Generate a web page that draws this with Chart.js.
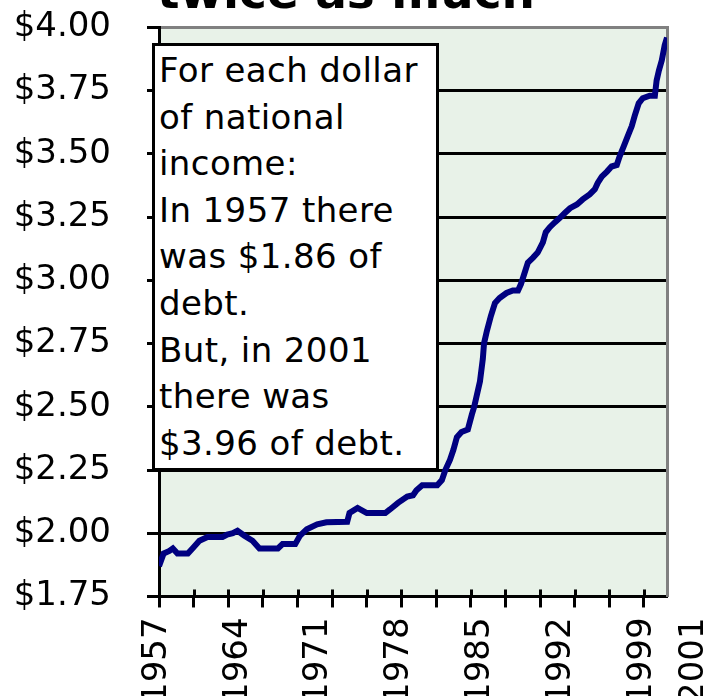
<!DOCTYPE html>
<html>
<head>
<meta charset="utf-8">
<script src="https://cdn.jsdelivr.net/npm/chart.js@4/dist/chart.umd.min.js"></script>
<style>
    html, body { margin: 0; padding: 0; background: #fff; overflow: hidden; }
    #wrap { position: relative; width: 712px; height: 696px; overflow: hidden; }
    #debtChart { position: absolute; left: 0; top: -32px; }
    #note {
        position: absolute; left: 152px; top: 43px; width: 277px; height: 421px;
        background: #fff; border: 3px solid #000; padding: 1px 0 0 4px; box-sizing: content-box;
        font-family: "DejaVu Sans", sans-serif; font-size: 34px; line-height: 46.6px; color: #000;
        letter-spacing: 0.4px; white-space: nowrap;
    }
</style>
</head>
<body>
<div id="wrap">
    <canvas id="debtChart" width="712" height="738"></canvas>
    <div id="note">For each dollar<br>of national<br>income:<br>In 1957 there<br>was $1.86 of<br>debt.<br>But, in 2001<br>there was<br>$3.96 of debt.</div>
</div>
<script>
// Debt per dollar of national income
const years = [1957.0, 1957.4, 1957.9, 1958.2, 1958.6, 1959.5, 1959.9, 1960.5, 1961.2, 1962.5,
    1962.9, 1963.4, 1963.8, 1964.4, 1965.1, 1965.7, 1967.3, 1967.7, 1968.8, 1969.2,
    1969.8, 1970.7, 1971.5, 1973.3, 1973.5, 1974.2, 1975.0, 1976.6, 1977.0, 1977.7,
    1978.5, 1979.0, 1979.3, 1979.8, 1981.1, 1981.5, 1981.8, 1982.2, 1982.5, 1982.8,
    1983.2, 1983.75, 1984.1, 1984.3, 1984.5, 1984.8, 1985.05, 1985.15, 1985.4, 1985.75,
    1986.1, 1986.5, 1987.1, 1987.65, 1988.1, 1988.35, 1988.6, 1988.95, 1989.4, 1989.8,
    1990.25, 1990.5, 1990.85, 1991.3, 1991.7, 1992.15, 1992.6, 1993.2, 1993.7, 1994.3,
    1994.75, 1995.0, 1995.35, 1995.8, 1996.2, 1996.65, 1996.9, 1997.25, 1997.6, 1997.95,
    1998.2, 1998.55, 1998.9, 1999.5, 1999.95, 2000.1, 2000.3, 2000.55, 2000.8, 2001.0];
const debt = [1.87, 1.92, 1.93, 1.94, 1.92, 1.92, 1.94, 1.97, 1.985, 1.985,
    1.995, 2.00, 2.01, 1.99, 1.97, 1.94, 1.94, 1.957, 1.957, 1.99,
    2.016, 2.035, 2.043, 2.045, 2.08, 2.10, 2.08, 2.08, 2.094, 2.12,
    2.145, 2.15, 2.17, 2.19, 2.19, 2.21, 2.25, 2.29, 2.33, 2.38,
    2.40, 2.41, 2.47, 2.50, 2.54, 2.60, 2.69, 2.75, 2.80, 2.86,
    2.91, 2.93, 2.95, 2.96, 2.96, 2.985, 3.02, 3.07, 3.09, 3.11,
    3.15, 3.19, 3.21, 3.23, 3.246, 3.266, 3.285, 3.30, 3.32, 3.34,
    3.36, 3.385, 3.41, 3.43, 3.45, 3.456, 3.49, 3.53, 3.57, 3.61,
    3.65, 3.70, 3.72, 3.73, 3.73, 3.79, 3.83, 3.87, 3.93, 3.96];

// Tick marks every 3 years, labels every 7 (last label sits past the plot like the original)
const tickYears = [1957, 1960, 1963, 1966, 1969, 1972, 1975, 1978, 1981, 1984, 1987, 1990, 1993, 1996, 1999];
const labelYears = [1957, 1964, 1971, 1978, 1985, 1992, 1999, 2003.5];
const yearLabels = ['1957', '1964', '1971', '1978', '1985', '1992', '1999', '2001'];

const FONT = "'DejaVu Sans', sans-serif";

// fills the plot area and draws the short tick stubs inside the axis
const plotDecor = {
    id: 'plotDecor',
    beforeDraw(chart) {
        const { ctx, chartArea: a } = chart;
        ctx.save();
        ctx.fillStyle = '#e8f2e8';
        ctx.fillRect(a.left, a.top, a.right - a.left, a.bottom - a.top);
        ctx.restore();
    },
    afterDraw(chart) {
        const { ctx, chartArea: a } = chart;
        const x = chart.scales.x;
        ctx.save();
        ctx.strokeStyle = '#000';
        ctx.lineWidth = 3;
        tickYears.forEach(v => {
            const px = Math.round(x.getPixelForValue(v)) + 0.5;
            ctx.beginPath();
            ctx.moveTo(px, a.bottom - 7);
            ctx.lineTo(px, a.bottom);
            ctx.stroke();
        });
        ctx.restore();
    }
};

const noSidePadding = axis => { axis.paddingLeft = 0; axis.paddingRight = 0; };

const ctx = document.getElementById('debtChart').getContext('2d');
new Chart(ctx, {
    type: 'line',
    data: {
        datasets: [{
            data: years.map((y, i) => ({ x: y, y: debt[i] })),
            borderColor: '#000080',
            borderWidth: 6,
            pointRadius: 0,
            tension: 0,
            fill: false
        }]
    },
    options: {
        responsive: false,
        animation: false,
        layout: { padding: { left: 0, right: 20, top: 0, bottom: 0 } },
        plugins: {
            legend: { display: false },
            tooltip: { enabled: false },
            title: {
                display: true,
                text: '- twice as much -',
                color: '#000',
                font: { family: FONT, size: 47, weight: 'bold' },
                padding: { top: 0, bottom: 3 }
            }
        },
        scales: {
            x: {
                type: 'linear',
                min: 1957,
                max: 2001,
                afterBuildTicks: axis => { axis.ticks = tickYears.map(v => ({ value: v })); },
                afterFit: noSidePadding,
                ticks: { display: false },
                grid: { drawOnChartArea: false, drawTicks: true, tickLength: 11, tickWidth: 3, tickColor: '#000' },
                border: { color: '#000', width: 3 }
            },
            xLabels: {
                type: 'linear',
                position: 'bottom',
                min: 1957,
                max: 2001,
                afterBuildTicks: axis => { axis.ticks = labelYears.map(v => ({ value: v })); },
                afterFit: noSidePadding,
                ticks: {
                    autoSkip: false,
                    minRotation: 90,
                    maxRotation: 90,
                    padding: 2,
                    labelOffset: -2,
                    color: '#000',
                    font: { family: FONT, size: 34 },
                    callback: (v, i) => yearLabels[i]
                },
                grid: { display: false },
                border: { display: false }
            },
            y: {
                min: 1.75,
                max: 4,
                afterFit: axis => { axis.width = 159; },
                ticks: {
                    stepSize: 0.25,
                    padding: 36,
                    color: '#000',
                    font: { family: FONT, size: 34 },
                    callback: v => '$' + v.toFixed(2)
                },
                grid: {
                    color: c => (c.tick && c.tick.value === 4 ? '#808080' : '#000'),
                    lineWidth: 3,
                    tickColor: '#000',
                    tickLength: 12
                },
                border: { color: '#000', width: 3 }
            },
            yRight: {
                position: 'right',
                min: 1.75,
                max: 4,
                afterFit: axis => { axis.width = 25; },
                ticks: { display: false },
                grid: { drawOnChartArea: false, drawTicks: false },
                border: { color: '#808080', width: 3 }
            }
        }
    },
    plugins: [plotDecor]
});
</script>
</body>
</html>
